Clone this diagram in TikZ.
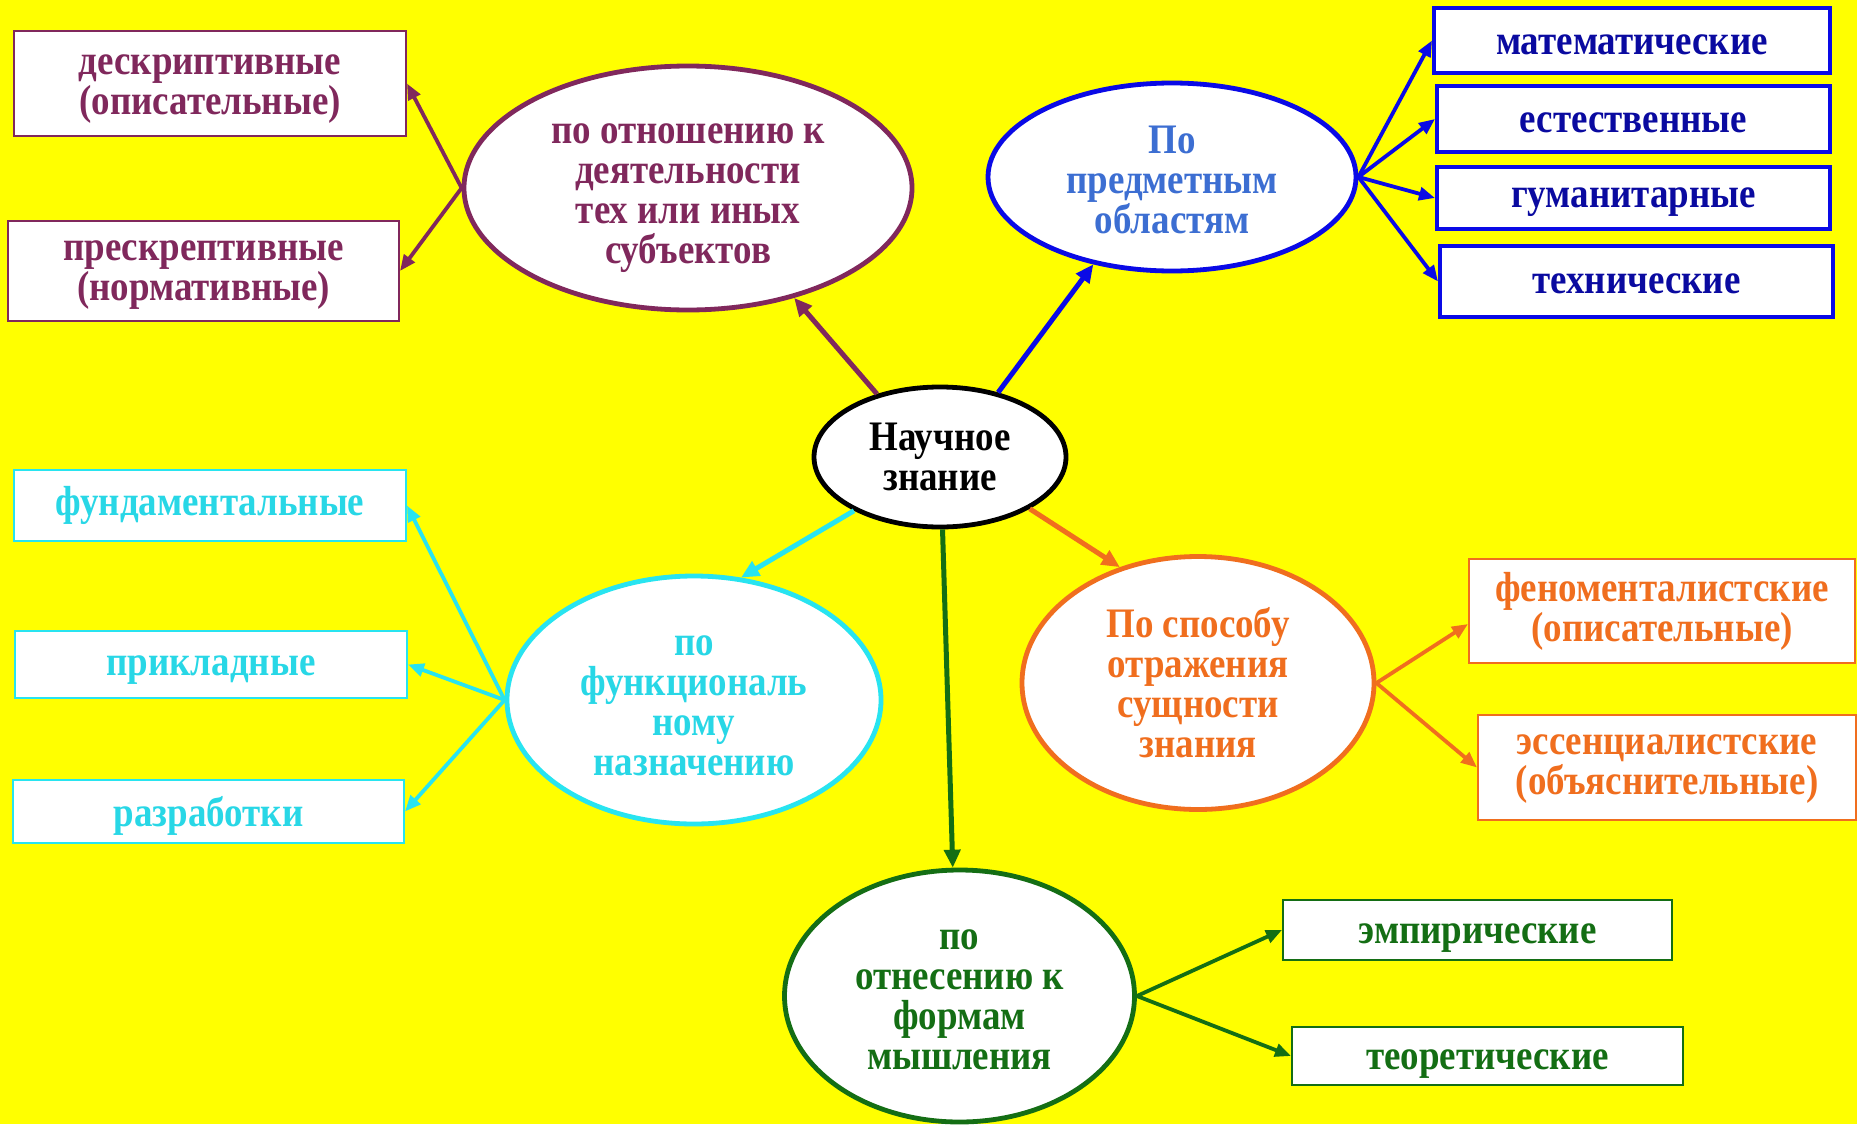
\documentclass[tikz,border=0pt]{standalone}
\usepackage{fontspec}
\setmainfont{Liberation Serif}[FakeStretch=0.88]
\usetikzlibrary{shapes.geometric,arrows.meta}
\definecolor{bg}{RGB}{255,255,0}
\definecolor{purp}{RGB}{128,40,92}
\definecolor{blueL}{RGB}{10,10,230}
\definecolor{blueT}{RGB}{60,110,210}
\definecolor{blueD}{RGB}{10,10,160}
\definecolor{cyanL}{RGB}{40,228,240}
\definecolor{cyanT}{RGB}{40,215,230}
\definecolor{orng}{RGB}{240,110,30}
\definecolor{grn}{RGB}{20,110,20}
\begin{document}
\begin{tikzpicture}[x=0.5pt,y=-0.5pt,
  txt/.style={font=\fontsize{21}{20}\selectfont\bfseries, align=center},
  el/.style={ellipse, draw, fill=white, line width=2.4pt, inner sep=0pt},
  bx/.style={rectangle, draw, fill=white, line width=1pt, inner sep=0pt},
  arr/.style={-{Triangle[length=9pt,width=8pt]}, line width=2.5pt},
  sarr/.style={-{Triangle[length=8pt,width=6.5pt]}, line width=1.9pt}]
\fill[bg] (0,0) rectangle (1857,1124);
\useasboundingbox (0,0) rectangle (1857,1124);

% centre
\node[el, draw=black, minimum width=126pt, minimum height=70pt,
  label={[txt, text=black]center:{Научное\\знание}}] (cen) at (940,457) {};

% purple group
\node[el, draw=purp, minimum width=224pt, minimum height=122pt,
  label={[txt, text=purp, yshift=-5pt]center:{по отношению к\\деятельности\\тех или иных\\субъектов}}] (purpE) at (688,188) {};
\node[bx, draw=purp, minimum width=196pt, minimum height=52.5pt,
  label={[txt, text=purp, yshift=-3pt]center:{дескриптивные\\(описательные)}}] (desc) at (210,83.5) {};
\node[bx, draw=purp, minimum width=195.5pt, minimum height=50pt,
  label={[txt, text=purp, yshift=-2pt]center:{прескрептивные\\(нормативные)}}] (presc) at (203.5,271) {};

% blue group
\node[el, draw=blueL, minimum width=184pt, minimum height=94pt,
  label={[txt, text=blueT, yshift=-1.5pt]center:{По\\предметным\\областям}}] (blueE) at (1172,177) {};
\node[bx, draw=blueL, line width=2pt, minimum width=198pt, minimum height=32.5pt,
  label={[txt, text=blueD, yshift=-2pt]center:математические}] (math) at (1632,40.5) {};
\node[bx, draw=blueL, line width=2pt, minimum width=196.5pt, minimum height=33pt,
  label={[txt, text=blueD, yshift=-2pt]center:естественные}] (nat) at (1633.5,119) {};
\node[bx, draw=blueL, line width=2pt, minimum width=196.5pt, minimum height=31pt,
  label={[txt, text=blueD, yshift=-2pt]center:гуманитарные}] (hum) at (1633.5,198) {};
\node[bx, draw=blueL, line width=2pt, minimum width=196.5pt, minimum height=35.5pt,
  label={[txt, text=blueD, yshift=-1pt]center:технические}] (tech) at (1636.5,281.5) {};

% cyan group
\node[el, draw=cyanL, minimum width=187pt, minimum height=124pt,
  label={[txt, text=cyanT, yshift=-2.7pt]center:{по\\функциональ\\ному\\назначению}}] (cyanE) at (694,700) {};
\node[bx, draw=cyanL, minimum width=196pt, minimum height=35.5pt,
  label={[txt, text=cyanT, yshift=0pt]center:фундаментальные}] (fund) at (210,505.5) {};
\node[bx, draw=cyanL, minimum width=196pt, minimum height=33.5pt,
  label={[txt, text=cyanT, yshift=-3pt]center:прикладные}] (appl) at (211,664.5) {};
\node[bx, draw=cyanL, minimum width=195.5pt, minimum height=31.5pt,
  label={[txt, text=cyanT, yshift=-2pt]center:разработки}] (dev) at (208.5,811.5) {};

% orange group
\node[el, draw=orng, minimum width=176pt, minimum height=126.5pt,
  label={[txt, text=orng]center:{По способу\\отражения\\сущности\\знания}}] (orgE) at (1198,683) {};
\node[bx, draw=orng, minimum width=193pt, minimum height=52pt,
  label={[txt, text=orng]center:{феноменталистские\\(описательные)}}] (phen) at (1662,611) {};
\node[bx, draw=orng, minimum width=189pt, minimum height=52.5pt,
  label={[txt, text=orng, yshift=-1pt]center:{эссенциалистские\\(объяснительные)}}] (esse) at (1667,767.5) {};

% green group
\node[el, draw=grn, minimum width=175pt, minimum height=126pt,
  label={[txt, text=grn, yshift=-2pt]center:{по\\отнесению к\\формам\\мышления}}] (grnE) at (959.5,996) {};
\node[bx, draw=grn, minimum width=194.5pt, minimum height=30pt,
  label={[txt, text=grn, yshift=-4pt]center:эмпирические}] (emp) at (1477.5,930) {};
\node[bx, draw=grn, minimum width=195.5pt, minimum height=29pt,
  label={[txt, text=grn, yshift=-4pt]center:теоретические}] (theo) at (1487.5,1056) {};

% connectors from centre
\draw[arr, purp] (cen.135) -- (purpE.-46);
\draw[arr, blueL] (cen.48) -- (blueE.-132);
\draw[arr, cyanL] (cen.-148) -- (cyanE.69);
\draw[arr, orng] (cen.-30) -- (orgE.124);
\draw[arr, grn] (cen.-88) -- (grnE.93);

% side connectors
\draw[sarr, purp] (purpE.west) -- (desc.east);
\draw[sarr, purp] (purpE.west) -- (presc.east);
\draw[sarr, blueL] (blueE.east) -- (math.west);
\draw[sarr, blueL] (blueE.east) -- (nat.west);
\draw[sarr, blueL] (blueE.east) -- (hum.west);
\draw[sarr, blueL] (blueE.east) -- (tech.west);
\draw[sarr, cyanL] (cyanE.west) -- (fund.east);
\draw[sarr, cyanL] (cyanE.west) -- (appl.east);
\draw[sarr, cyanL] (cyanE.west) -- (dev.east);
\draw[sarr, orng] (orgE.east) -- ([yshift=-6.5pt]phen.west);
\draw[sarr, orng] (orgE.east) -- (esse.west);
\draw[sarr, grn] (grnE.east) -- (emp.west);
\draw[sarr, grn] (grnE.east) -- (theo.west);
\end{tikzpicture}
\end{document}
